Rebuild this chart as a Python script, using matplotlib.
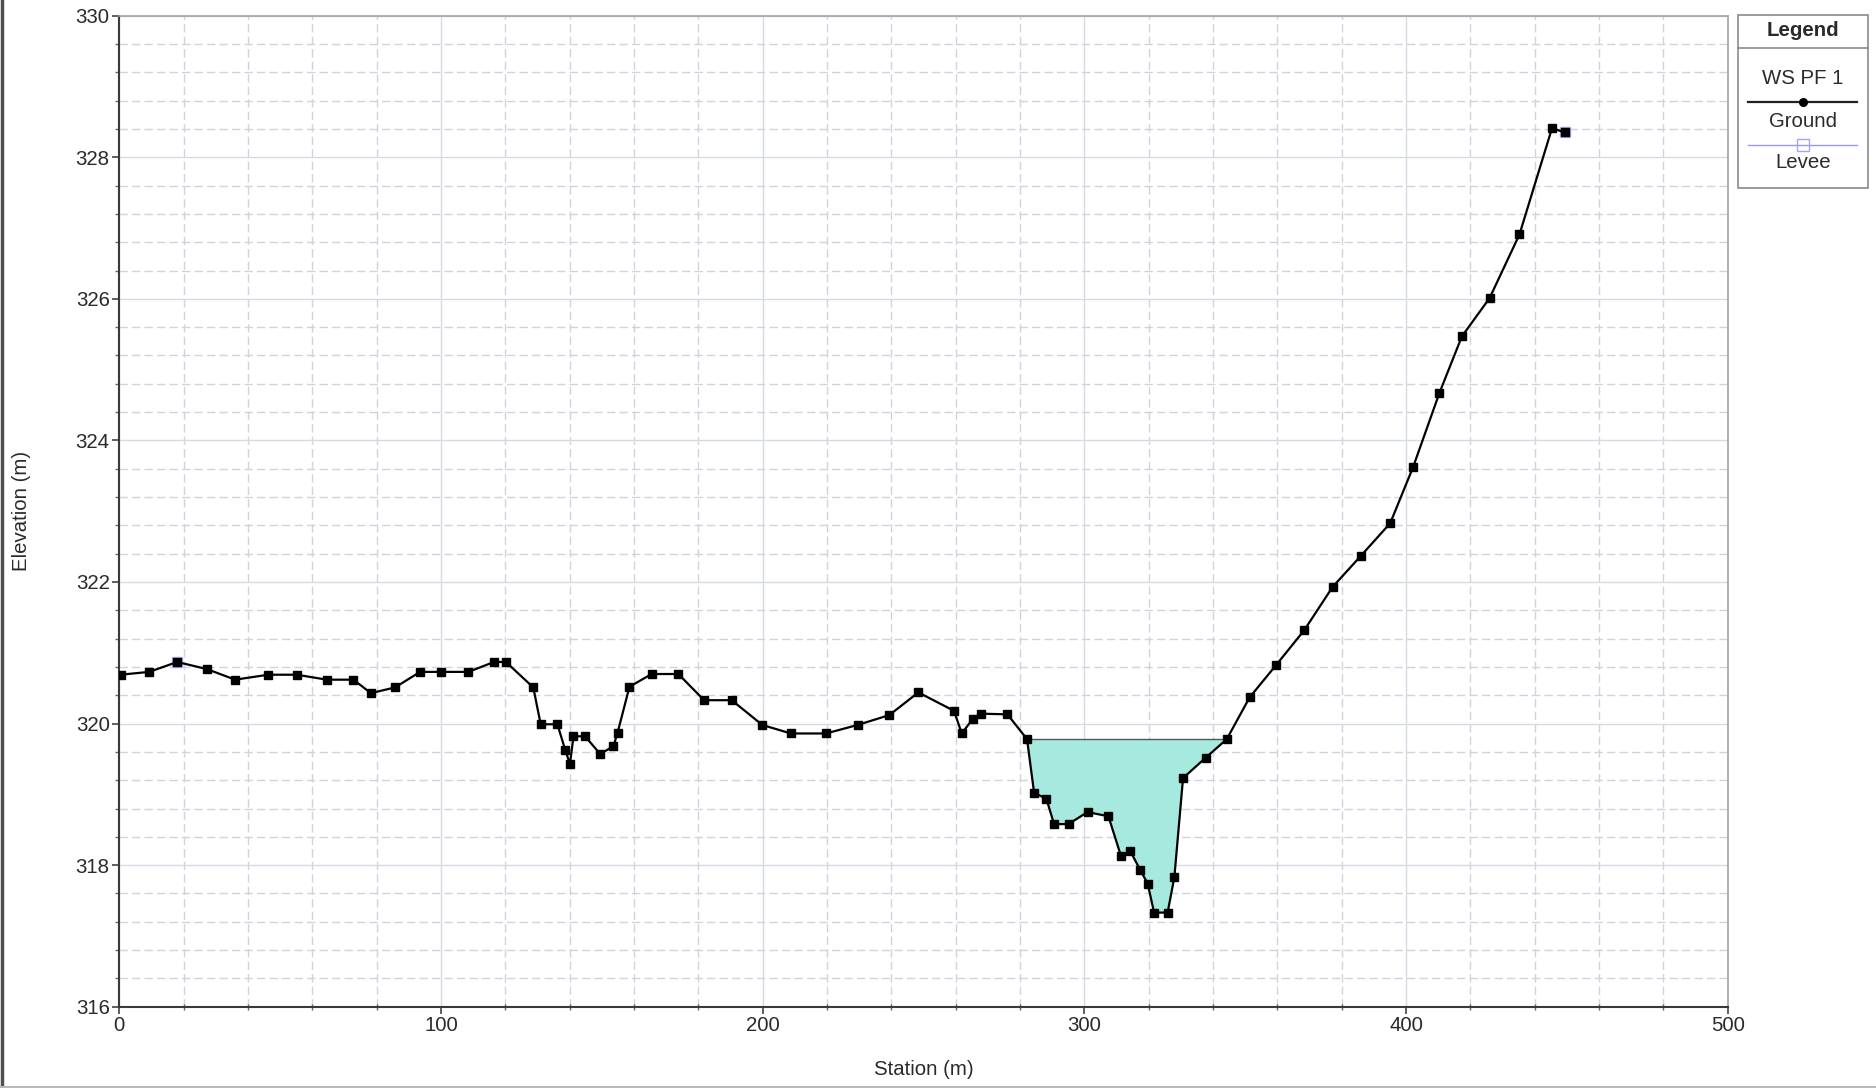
import numpy as np
import matplotlib
matplotlib.use("Agg")
import matplotlib.pyplot as plt
from matplotlib.lines import Line2D
from matplotlib.patches import Rectangle
from matplotlib.ticker import MultipleLocator

plt.rcParams['font.family'] = ['Liberation Sans', 'DejaVu Sans']

# ==========================================================
# DATA (read off the cross section)
# ==========================================================
station = np.array([
    0.4, 9.3, 18.0, 27.2, 36.0, 46.3, 55.2, 64.5, 72.8, 78.2,
    85.7, 93.5, 99.9, 108.5, 116.5, 120.2, 128.7, 131.0, 136.2, 138.6,
    140.1, 141.2, 144.8, 149.5, 153.6, 154.9, 158.6, 165.5, 173.8, 181.8,
    190.4, 199.9, 208.8, 219.7, 229.5, 239.4, 248.4, 259.5, 261.9, 265.4,
    267.8, 276.1, 282.2, 284.4, 288.2, 290.6, 295.1, 301.0, 307.5, 311.4,
    314.3, 317.4, 319.7, 321.7, 325.9, 328.0, 330.7, 337.8, 344.3, 351.4,
    359.7, 368.4, 377.2, 386.0, 395.1, 402.2, 410.4, 417.4, 426.0, 435.3,
    445.4, 449.5,
])
elevation = np.array([
    320.69, 320.73, 320.87, 320.77, 320.62, 320.69, 320.69, 320.62, 320.62, 320.43,
    320.51, 320.73, 320.73, 320.73, 320.87, 320.87, 320.51, 319.99, 319.99, 319.63,
    319.43, 319.82, 319.82, 319.57, 319.68, 319.87, 320.52, 320.70, 320.70, 320.33,
    320.33, 319.98, 319.86, 319.86, 319.98, 320.12, 320.44, 320.18, 319.86, 320.07,
    320.14, 320.13, 319.78, 319.02, 318.94, 318.58, 318.58, 318.75, 318.69, 318.13,
    318.20, 317.93, 317.74, 317.33, 317.33, 317.83, 319.23, 319.52, 319.78, 320.37,
    320.83, 321.32, 321.93, 322.37, 322.83, 323.62, 324.67, 325.47, 326.01, 326.91,
    328.41, 328.35,
])
levee_station = [18.0, 449.5]
levee_elev = [320.87, 328.35]
ws_elev = 319.78

legend_labels = ["WS PF 1", "Ground", "Levee"]

# ==========================================================
# PLOT
# ==========================================================
fig = plt.figure(figsize=(18.76, 10.88), dpi=100)
ax = fig.add_axes([0.0636, 0.0747, 0.8573, 0.9109])

txt_col = '#2a2a2a'
fs = 14.7

# water surface only in the main channel (contiguous wet part round the thalweg)
below = elevation <= ws_elev + 1e-9
i_low = int(np.argmin(elevation))
i0 = i_low
while i0 > 0 and below[i0 - 1]:
    i0 -= 1
i1 = i_low
while i1 < len(elevation) - 1 and below[i1 + 1]:
    i1 += 1
ch_x = station[i0:i1 + 1]
ch_z = elevation[i0:i1 + 1]
ax.fill_between(ch_x, ch_z, ws_elev, color='#a6eadf', linewidth=0, zorder=2)
ax.plot([ch_x[0], ch_x[-1]], [ws_elev, ws_elev], color='#555555', lw=1.0, zorder=3)

# levee markers
ax.plot(levee_station, levee_elev, ls='none', marker='s', ms=7.5,
        mfc='#d9d3ff', mec='#b4acf2', mew=1.0, zorder=3)

# ground
ax.plot(station, elevation, color='black', lw=1.6, marker='s', ms=5.2,
        mfc='black', mec='black', zorder=4)

ax.set_xlim(0, 500)
ax.set_ylim(316, 330)
ax.xaxis.set_major_locator(MultipleLocator(100))
ax.xaxis.set_minor_locator(MultipleLocator(20))
ax.yaxis.set_major_locator(MultipleLocator(2))
ax.yaxis.set_minor_locator(MultipleLocator(0.4))

ax.grid(which='major', color='#d6dae4', lw=1.0, ls='-', zorder=0)
ax.grid(which='minor', color='#cfd3dd', lw=1.0, ls=(0, (6, 3)), zorder=0)
ax.set_axisbelow(True)

ax.tick_params(which='major', length=5, width=1.2, color='#444444',
               labelsize=fs, labelcolor=txt_col, pad=2)
ax.tick_params(which='minor', length=3, width=1.0, color='#666666')
ax.tick_params(axis='x', which='minor', direction='inout', length=5)

for s in ['left', 'bottom']:
    ax.spines[s].set_color('#3a3a3a')
    ax.spines[s].set_linewidth(1.5)
for s in ['top', 'right']:
    ax.spines[s].set_color('#9ea3ab')
    ax.spines[s].set_linewidth(1.2)

fig.text(0.4923, 0.0169, 'Station (m)', ha='center', va='center',
         fontsize=fs, color=txt_col)
fig.text(0.0115, 0.5303, 'Elevation (m)', ha='center', va='center',
         rotation=90, fontsize=fs, color=txt_col)

# ==========================================================
# LEGEND BOX (HEC-RAS style)
# ==========================================================
lx0, lx1 = 0.9265, 0.9957
ly0, ly1 = 0.8272, 0.9862
fig.add_artist(Rectangle((lx0, ly0), lx1 - lx0, ly1 - ly0, transform=fig.transFigure,
                         fill=True, facecolor='white', edgecolor='#8a8a8a', lw=1.2))
fig.add_artist(Line2D([lx0, lx1], [0.9559, 0.9559], transform=fig.transFigure,
                      color='#8a8a8a', lw=1.2))
lxc = (lx0 + lx1) / 2
fig.text(lxc, 0.9724, 'Legend', ha='center', va='center', fontsize=fs,
         fontweight='bold', color=txt_col)
fig.text(lxc, 0.9283, legend_labels[0], ha='center', va='center', fontsize=fs, color=txt_col)
fig.add_artist(Line2D([0.9318, 0.9899], [0.9063, 0.9063], transform=fig.transFigure,
                      color='#222222', lw=1.6))
fig.add_artist(Line2D([lxc], [0.9063], transform=fig.transFigure, ls='none',
                      marker='o', ms=5.5, color='black'))
fig.text(lxc, 0.8879, legend_labels[1], ha='center', va='center', fontsize=fs, color=txt_col)
fig.add_artist(Line2D([0.9318, 0.9899], [0.8667, 0.8667], transform=fig.transFigure,
                      color='#9a94ff', lw=1.0))
fig.add_artist(Line2D([lxc], [0.8667], transform=fig.transFigure, ls='none',
                      marker='s', ms=8, mfc='none', mec='#a9a3f5', mew=1.0))
fig.text(lxc, 0.8502, legend_labels[2], ha='center', va='center', fontsize=fs, color=txt_col)

# window frame edges
fig.add_artist(Line2D([0.0008, 0.0008], [0, 1], transform=fig.transFigure,
                      color='#505050', lw=2.5))
fig.add_artist(Line2D([0, 1], [0.0012, 0.0012], transform=fig.transFigure,
                      color='#b8b8b8', lw=1.5))

fig.savefig('out.png', dpi=100)
